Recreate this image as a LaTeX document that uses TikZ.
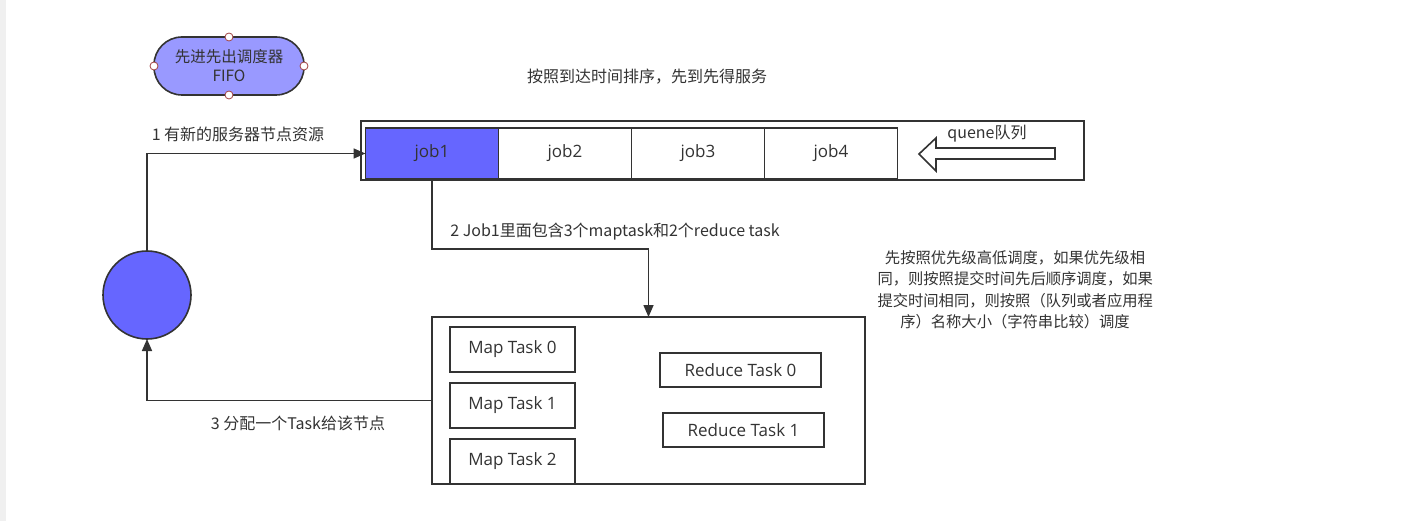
\documentclass[tikz,border=0pt]{standalone}
\usepackage{fontspec}
\setmainfont{Noto Sans CJK SC}
\newfontfamily\latinsans{Open Sans}
\usetikzlibrary{arrows.meta,positioning,calc}
\definecolor{ink}{HTML}{333333}
\definecolor{jobblue}{HTML}{6666FF}
\definecolor{fifofill}{HTML}{9999FF}
\definecolor{dotred}{HTML}{A04040}
\tikzset{
  box/.style={rectangle, draw=ink, line width=1.6pt, fill=white, inner sep=0pt, outer sep=0pt,
              align=center, text=ink, font=\latinsans\fontsize{17}{20}\selectfont},
  jobbox/.style={box, minimum width=133pt, minimum height=51pt},
  mapbox/.style={box, minimum width=125pt, minimum height=45pt},
  redbox/.style={box, minimum width=161pt, minimum height=34pt},
  dot/.style={circle, draw=dotred, fill=white, line width=0.8pt, minimum size=8pt, inner sep=0pt},
  ar/.style={-{Triangle[length=12pt, width=10pt]}, draw=ink, line width=1.6pt},
  lbl/.style={text=ink, font=\fontsize{16}{21.5}\selectfont, inner sep=0pt},
}
\begin{document}
\begin{tikzpicture}[x=1pt,y=-1pt]
\useasboundingbox (0,0) rectangle (1413,521);
\fill[white] (0,0) rectangle (1413,521);
\fill[black!6] (0,0) rectangle (6,521);

% scheduler badge
\node[box, fill=fifofill, rounded corners=28pt, minimum width=150pt, minimum height=58pt,
      font=\fontsize{15.5}{19}\selectfont] (fifo) at (229,66) {先进先出调度器\\FIFO};
\foreach \a in {north,south,east,west}
  \node[dot] at (fifo.\a) {};
\node[lbl] (order) at (647,77) {按照到达时间排序，先到先得服务};

% job queue
\node[box, minimum width=723pt, minimum height=59pt] (queue) at (722.5,150.5) {};
\node[jobbox, fill=jobblue] (job1) at (432,153.5) {job1};
\node[jobbox, right=0pt of job1] (job2) {job2};
\node[jobbox, right=0pt of job2] (job3) {job3};
\node[jobbox, right=0pt of job3] (job4) {job4};
\draw[ink, line width=1.6pt, fill=white]
  (919,154) -- (936,138) -- (936,148) -- (1055,148) -- (1055,159) -- (936,159) -- (936,171) -- cycle;
\node[lbl] (qlbl) at (987,134) {quene队列};

% node resource
\node[circle, draw=ink, line width=1.6pt, fill=jobblue, minimum size=88pt, inner sep=0pt, outer sep=0pt] (res) at (147,295) {};

% tasks of job1
\node[box, minimum width=433pt, minimum height=167pt] (tasks) at (648.5,400.5) {};
\node[mapbox] (map0) at (512.5,349.5) {Map Task 0};
\node[mapbox] (map1) at (512.5,405.5) {Map Task 1};
\node[mapbox] (map2) at (512.5,461.5) {Map Task 2};
\node[redbox] (red0) at (740.5,370) {Reduce Task 0};
\node[redbox] (red1) at (743.5,430) {Reduce Task 1};
\draw[draw=ink, line width=1.6pt] (tasks.south west) -- (tasks.south east);

% connectors
\draw[ar] (res.north) |- (job1.west);
\node[lbl] (step1) at (238,134) {1 有新的服务器节点资源};
\draw[ar] (job1.south) -- ++(0,70) -| (tasks.north);
\node[lbl] (step2) at (615,232) {2 Job1里面包含3个maptask和2个reduce task};
\draw[ar] (tasks.west) -| (res.south);
\node[lbl] (step3) at (298,423) {3 分配一个Task给该节点};

\node[lbl, align=center, text width=275pt, font=\fontsize{15.3}{21.5}\selectfont] (rule) at (1015,290)
  {先按照优先级高低调度，如果优先级相\\同，则按照提交时间先后顺序调度，如果\\提交时间相同，则按照（队列或者应用程\\序）名称大小（字符串比较）调度};
\end{tikzpicture}
\end{document}
